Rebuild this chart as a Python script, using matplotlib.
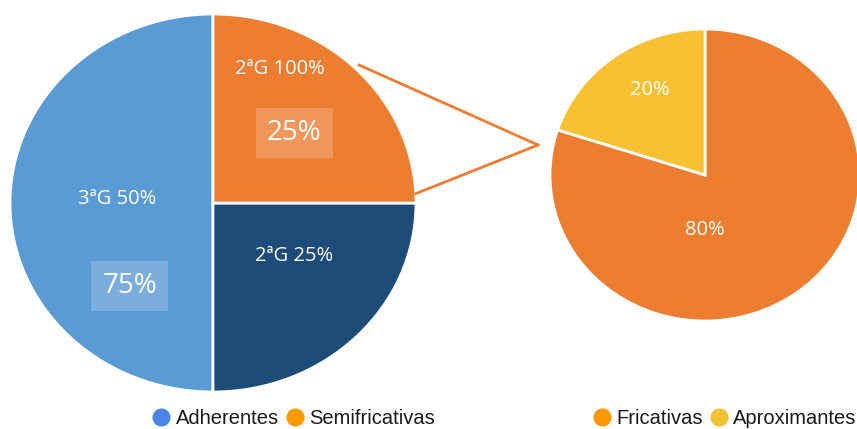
import matplotlib.pyplot as plt
from matplotlib.lines import Line2D

# left pie (generations)
left_labels = ['3ªG 50%', '2ªG 25%', '2ªG 100%']
left_values = [50, 25, 25]
left_colors = ['#5B9BD5', '#1C4C77', '#ED7D31']
box_labels = ['75%', '25%']

# right pie (breakdown of the orange slice)
right_labels = ['80%', '20%']
right_values = [80, 20]
right_colors = ['#ED7D31', '#F8C132']

legend_left = ['Adherentes', 'Semifricativas']
legend_left_colors = ['#4A86E8', '#FF9900']
legend_right = ['Fricativas', 'Aproximantes']
legend_right_colors = ['#FF9900', '#F1C232']

W, H = 857, 429
fig = plt.figure(figsize=(W / 100, H / 100), dpi=100)
lab_font = 'Open Sans'

# left pie axes: centre (213, 205) px, radii 203 x 188
ax1 = fig.add_axes([10 / W, (H - 392) / H, 406 / W, 378 / H])
ax1.pie(left_values, colors=left_colors, startangle=90, radius=1,
        wedgeprops=dict(edgecolor='white', linewidth=2))
ax1.set_aspect('auto')
ax1.set_xlim(-1, 1)
ax1.set_ylim(-1, 1)
ax1.axis('off')

left_pos = [(-0.47, 0.02), (0.40, -0.28), (0.33, 0.71)]
for txt, (x, y) in zip(left_labels, left_pos):
    ax1.text(x, y, txt, ha='center', va='center', color='white',
             fontsize=14.5, family=lab_font)

box_pos = [(-0.41, -0.44), (0.40, 0.37)]
for txt, (x, y) in zip(box_labels, box_pos):
    ax1.text(x, y, txt, ha='center', va='center', color='white',
             fontsize=20, family=lab_font,
             bbox=dict(boxstyle='square,pad=0.4', facecolor='white',
                       alpha=0.2, edgecolor='none'))

# right pie axes: centre (705, 175) px, radii 155 x 146
ax2 = fig.add_axes([550 / W, (H - 321) / H, 310 / W, 292 / H])
ax2.pie(right_values, colors=right_colors, startangle=162, radius=1,
        wedgeprops=dict(edgecolor='white', linewidth=2))
ax2.set_aspect('auto')
ax2.set_xlim(-1, 1)
ax2.set_ylim(-1, 1)
ax2.axis('off')

right_pos = [(0, -0.38), (-0.355, 0.58)]
for txt, (x, y) in zip(right_labels, right_pos):
    ax2.text(x, y, txt, ha='center', va='center', color='white',
             fontsize=14.5, family=lab_font)

# connector lines from the orange slice to the apex
apex = (538 / W, 1 - 145 / H)
to_fig = fig.transFigure.inverted()
for pt in [(0.72, 0.73), (1.0, 0.05)]:
    p = to_fig.transform(ax1.transData.transform(pt))
    fig.add_artist(Line2D([p[0], apex[0]], [p[1], apex[1]],
                          transform=fig.transFigure, color='#ED7D31', lw=2))


def add_legend(names, colors, cx):
    handles = [Line2D([], [], marker='o', linestyle='', markersize=12,
                      color=c) for c in colors]
    fig.legend(handles, names, loc='center', bbox_to_anchor=(cx / W, 1 - 419 / H),
               ncol=2, frameon=False, handlelength=0.8, handletextpad=0.3,
               columnspacing=0.4, prop={'family': 'Liberation Sans', 'size': 14.5},
               labelcolor='#1a1a1a')


add_legend(legend_left, legend_left_colors, 294)
add_legend(legend_right, legend_right_colors, 725)

fig.savefig('out.png', dpi=100)
